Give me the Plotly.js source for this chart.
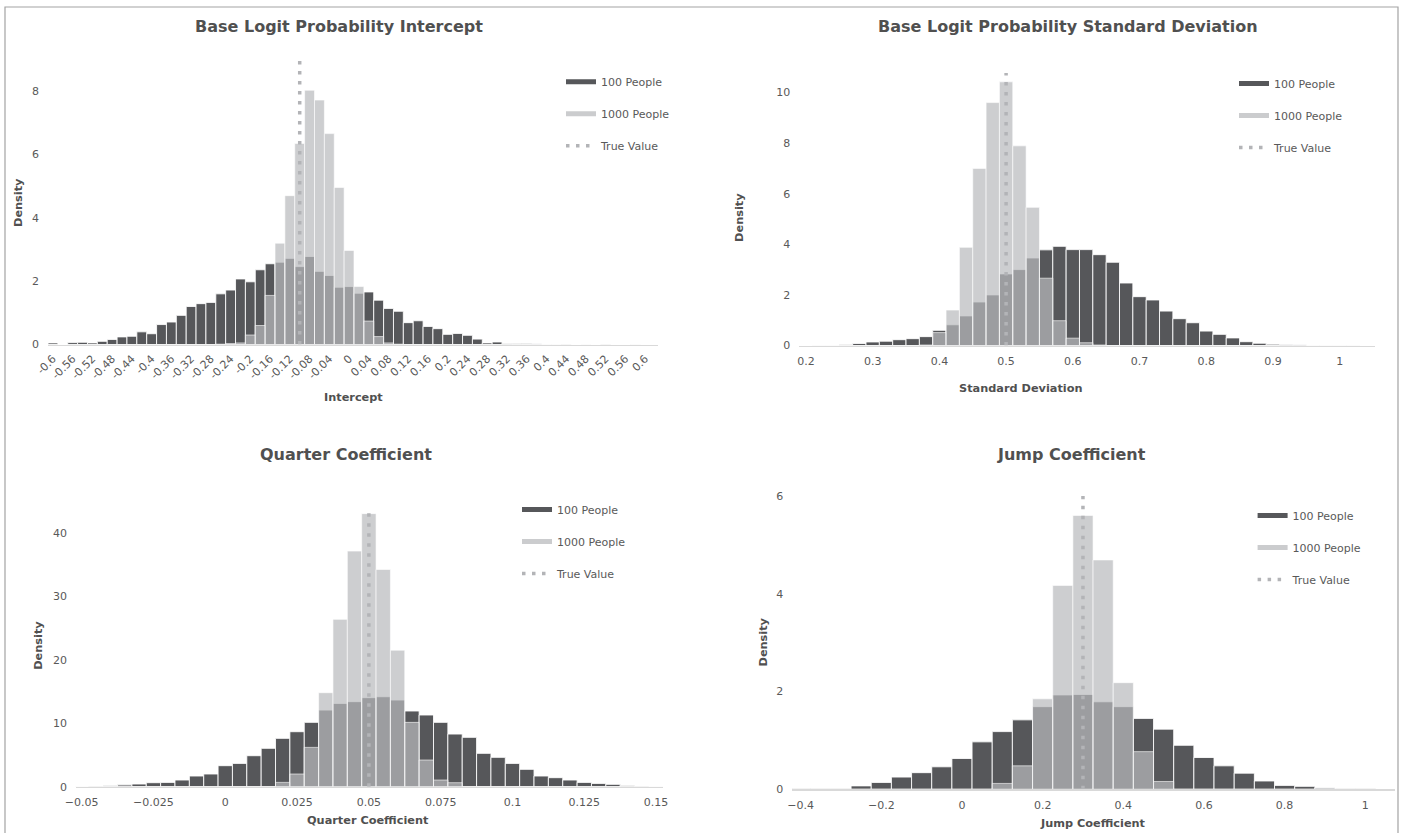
<!DOCTYPE html>
<html>
<head>
<meta charset="utf-8">
<script src="https://cdn.plot.ly/plotly-3.0.1.min.js"></script>
<style>html,body{margin:0;padding:0;background:#fff;}#chart{width:1405px;height:833px;}</style>
</head>
<body>
<div id="chart"></div>
<script>
// ---------- DATA ----------
const seriesNames = ["100 People", "1000 People", "True Value"];

// Panel 1: Base Logit Probability Intercept (bin centres, width 0.02)
const interceptBins = [-0.6,-0.58,-0.56,-0.54,-0.52,-0.5,-0.48,-0.46,-0.44,-0.42,-0.4,-0.38,-0.36,-0.34,-0.32,-0.3,-0.28,-0.26,-0.24,-0.22,-0.2,-0.18,-0.16,-0.14,-0.12,-0.1,-0.08,-0.06,-0.04,-0.02,0,0.02,0.04,0.06,0.08,0.1,0.12,0.14,0.16,0.18,0.2,0.22,0.24,0.26,0.28,0.3,0.32,0.34,0.36,0.38,0.4,0.42,0.44,0.46,0.48,0.5,0.52,0.54,0.56,0.58,0.6];
const intercept100 = [0.05,0,0.06,0.07,0.05,0.1,0.16,0.24,0.26,0.4,0.34,0.63,0.71,0.92,1.2,1.29,1.33,1.6,1.72,2.07,1.98,2.36,2.55,2.6,2.72,2.46,2.78,2.31,2.18,1.81,1.83,1.62,1.66,1.4,1.14,1.05,0.69,0.75,0.57,0.5,0.32,0.35,0.29,0.17,0.05,0.08,0.03,0.03,0.02,0.01,0.01,0.01,0.01,0,0.01,0,0.01,0,0,0.01,0];
const intercept1000 = [0,0,0,0,0,0,0,0,0,0,0,0,0,0,0,0,0,0.01,0.03,0.05,0.3,0.6,1.55,3.2,4.7,6.35,8.03,7.72,6.66,4.96,2.97,1.83,0.74,0.25,0.05,0.01,0,0,0,0,0,0,0,0,0,0,0.01,0,0,0.02,0,0,0.01,0,0,0,0.01,0,0,0,0];
const interceptTicks = [-0.6,-0.56,-0.52,-0.48,-0.44,-0.4,-0.36,-0.32,-0.28,-0.24,-0.2,-0.16,-0.12,-0.08,-0.04,0,0.04,0.08,0.12,0.16,0.2,0.24,0.28,0.32,0.36,0.4,0.44,0.48,0.52,0.56,0.6];
const interceptTickText = ["-0.6","-0.56","-0.52","-0.48","-0.44","-0.4","-0.36","-0.32","-0.28","-0.24","-0.2","-0.16","-0.12","-0.08","-0.04","0","0.04","0.08","0.12","0.16","0.2","0.24","0.28","0.32","0.36","0.4","0.44","0.48","0.52","0.56","0.6"];

// Panel 2: Base Logit Probability Standard Deviation (width 0.02)
const sdBins = [0.2,0.22,0.24,0.26,0.28,0.3,0.32,0.34,0.36,0.38,0.4,0.42,0.44,0.46,0.48,0.5,0.52,0.54,0.56,0.58,0.6,0.62,0.64,0.66,0.68,0.7,0.72,0.74,0.76,0.78,0.8,0.82,0.84,0.86,0.88,0.9,0.92,0.94,0.96,0.98,1,1.02,1.04];
const sd100 = [0,0.01,0.01,0.03,0.08,0.14,0.17,0.23,0.27,0.35,0.6,0.82,1.17,1.72,2.0,2.83,3.0,3.46,3.78,3.92,3.79,3.79,3.59,3.29,2.47,1.93,1.8,1.36,1.06,0.9,0.57,0.44,0.3,0.15,0.09,0.05,0.03,0.02,0.01,0.01,0.01,0.01,0];
const sd1000 = [0,0,0,0,0,0,0,0,0,0.02,0.51,1.4,3.88,7.0,9.6,10.42,7.89,5.46,2.66,0.98,0.29,0.11,0.02,0,0,0,0,0,0,0,0,0,0,0,0,0,0.03,0.03,0,0,0,0,0];
const sdTicks = [0.2,0.3,0.4,0.5,0.6,0.7,0.8,0.9,1];
const sdTickText = ["0.2","0.3","0.4","0.5","0.6","0.7","0.8","0.9","1"];

// Panel 3: Quarter Coefficient (width 0.005)
const quarterBins = [-0.05,-0.045,-0.04,-0.035,-0.03,-0.025,-0.02,-0.015,-0.01,-0.005,0,0.005,0.01,0.015,0.02,0.025,0.03,0.035,0.04,0.045,0.05,0.055,0.06,0.065,0.07,0.075,0.08,0.085,0.09,0.095,0.1,0.105,0.11,0.115,0.12,0.125,0.13,0.135,0.14,0.145,0.15];
const quarter100 = [0.05,0.1,0.15,0.3,0.42,0.63,0.68,1.05,1.68,2.0,3.31,3.67,4.88,6.04,7.61,8.66,10.13,12.07,13.12,13.39,14.02,14.17,13.65,11.92,11.29,10.13,8.29,7.77,5.25,4.62,3.67,2.73,1.68,1.42,1.05,0.68,0.52,0.37,0.2,0.1,0.05];
const quarter1000 = [0,0,0,0.1,0,0,0,0,0,0,0,0,0,0,0.68,2.0,6.19,14.8,26.35,37.1,43.0,34.2,21.5,10.13,4.2,1.05,0.63,0,0,0,0,0,0,0,0,0,0,0,0.05,0,0];
const quarterTicks = [-0.05,-0.025,0,0.025,0.05,0.075,0.1,0.125,0.15];
const quarterTickText = ["\u22120.05","\u22120.025","0","0.025","0.05","0.075","0.1","0.125","0.15"];

// Panel 4: Jump Coefficient (width 0.05)
const jumpBins = [-0.4,-0.35,-0.3,-0.25,-0.2,-0.15,-0.1,-0.05,0,0.05,0.1,0.15,0.2,0.25,0.3,0.35,0.4,0.45,0.5,0.55,0.6,0.65,0.7,0.75,0.8,0.85,0.9,0.95,1,1.05];
const jump100 = [0.01,0.01,0.01,0.07,0.14,0.25,0.34,0.46,0.63,0.97,1.18,1.42,1.69,1.93,1.94,1.79,1.69,1.45,1.23,0.9,0.65,0.48,0.33,0.17,0.08,0.06,0.02,0.01,0.01,0];
const jump1000 = [0,0,0,0,0,0,0,0,0,0,0.12,0.48,1.85,4.17,5.6,4.69,2.18,0.77,0.16,0,0,0,0,0,0,0,0.03,0,0,0];
const jumpTicks = [-0.4,-0.2,0,0.2,0.4,0.6,0.8,1];
const jumpTickText = ["\u22120.4","\u22120.2","0","0.2","0.4","0.6","0.8","1"];

// True values (x) and height of the dotted marker line (y)
const trueValues = [-0.1, 0.5, 0.05, 0.3];
const trueLineTop = [8.95, 10.77, 43.1, 6.0];

const titles = ["Base Logit Probability Intercept", "Base Logit Probability Standard Deviation", "Quarter Coefficient", "Jump Coefficient"];
const xTitles = ["Intercept", "Standard Deviation", "Quarter Coefficient", "Jump Coefficient"];
const yTitle = "Density";
const yTicks = [[0,2,4,6,8],[0,2,4,6,8,10],[0,10,20,30,40],[0,2,4,6]];

// ---------- LAYOUT HELPERS ----------
const W = 1405, H = 833;
const fx = p => p / W;
const fy = p => 1 - p / H;
const FONT = "DejaVu Sans, Verdana, sans-serif";
const DARK = "#56575a";
const LIGHT_FILL = "rgba(185,186,189,0.71)";
const LIGHT_LEG = "#cbccce";
const DOT = "#b3b4b7";
const TXT = "#595959";

const panels = [
  {bins: interceptBins, a: intercept100, b: intercept1000, w: 0.02, ticks: interceptTicks, ticktext: interceptTickText, angle: -45,
   xpx: [48, 658], xr: [-0.61, 0.626], ypx: [344.5, 61.1],
   title: [339, 27], dens: [18.5, 202.5], xt: [354, 397], leg: [566, 82.3]},
  {bins: sdBins, a: sd100, b: sd1000, w: 0.02, ticks: sdTicks, ticktext: sdTickText, angle: 0,
   xpx: [799.3, 1375], xr: [0.19, 1.053], ypx: [345.5, 73],
   title: [1068, 27], dens: [739.4, 217.5], xt: [1020, 388.5], leg: [1239, 84]},
  {bins: quarterBins, a: quarter100, b: quarter1000, w: 0.005, ticks: quarterTicks, ticktext: quarterTickText, angle: 0,
   xpx: [75.9, 663], xr: [-0.052, 0.1524], ypx: [786.7, 513],
   title: [346, 454.5], dens: [39, 645.8], xt: [368.5, 820], leg: [522, 510]},
  {bins: jumpBins, a: jump100, b: jump1000, w: 0.05, ticks: jumpTicks, ticktext: jumpTickText, angle: 0,
   xpx: [792.2, 1394.7], xr: [-0.421, 1.073], ypx: [789.3, 495.9],
   title: [1071.6, 454.5], dens: [763, 642.5], xt: [1093, 823], leg: [1257.6, 516]}
];

const data = [];
const layout = {
  width: W, height: H,
  margin: {l: 0, r: 0, t: 0, b: 0},
  paper_bgcolor: "#fff", plot_bgcolor: "rgba(0,0,0,0)",
  barmode: "overlay", bargap: 0,
  showlegend: true,
  font: {family: FONT, color: TXT, size: 11},
  annotations: [],
  shapes: [{type: "rect", xref: "paper", yref: "paper", x0: fx(5), x1: fx(1398), y0: fy(7), y1: -0.2,
            line: {color: "#a3a3a3", width: 1.2}, fillcolor: "rgba(0,0,0,0)", layer: "above"}]
};

panels.forEach((p, i) => {
  const s = i === 0 ? "" : String(i + 1);
  const xa = "x" + s, ya = "y" + s;
  const legName = "legend" + s;
  data.push({type: "bar", x: p.bins, y: p.a, width: p.w, xaxis: xa, yaxis: ya, showlegend: false, hoverinfo: "skip",
             marker: {color: DARK, line: {color: "rgba(255,255,255,0.85)", width: 1}}});
  data.push({type: "bar", x: p.bins, y: p.b, width: p.w, xaxis: xa, yaxis: ya, showlegend: false, hoverinfo: "skip",
             marker: {color: LIGHT_FILL, line: {color: "rgba(255,255,255,0.6)", width: 1}}});
  data.push({type: "scatter", mode: "lines", x: [null], y: [null], xaxis: xa, yaxis: ya, name: seriesNames[0],
             legend: legName, legendgroup: "a" + i, line: {color: DARK, width: 5}, hoverinfo: "skip"});
  data.push({type: "scatter", mode: "lines", x: [null], y: [null], xaxis: xa, yaxis: ya, name: seriesNames[1],
             legend: legName, legendgroup: "b" + i, line: {color: LIGHT_LEG, width: 5}, hoverinfo: "skip"});
  data.push({type: "scatter", mode: "lines", x: [trueValues[i], trueValues[i]], y: [0, trueLineTop[i]], xaxis: xa, yaxis: ya,
             name: seriesNames[2], legend: legName, legendgroup: "c" + i,
             line: {color: DOT, width: 3.5, dash: "3.5px,6.5px"}, hoverinfo: "skip"});

  layout["xaxis" + s] = {
    domain: [fx(p.xpx[0]), fx(p.xpx[1])], range: p.xr, anchor: ya,
    tickmode: "array", tickvals: p.ticks, ticktext: p.ticktext, tickangle: p.angle,
    showgrid: false, zeroline: false, showline: true, linecolor: "#d9d9d9", linewidth: 1.5, ticks: "",
    ticklabelstandoff: p.angle ? 2 : 5,
    tickfont: {family: FONT, size: 11, color: TXT}, fixedrange: true
  };
  layout["yaxis" + s] = {
    domain: [fy(p.ypx[0]), fy(p.ypx[1])], range: [0, trueLineTop[i]], anchor: xa,
    tickmode: "array", tickvals: yTicks[i], showgrid: false, zeroline: false, showline: false, ticks: "",
    ticklabelstandoff: 8,
    tickfont: {family: FONT, size: 11, color: TXT}, fixedrange: true
  };
  layout[legName] = {
    x: fx(p.leg[0] - 5), y: fy(p.leg[1] - 15), xanchor: "left", yanchor: "top",
    bgcolor: "rgba(0,0,0,0)", borderwidth: 0,
    font: {family: FONT, size: 11, color: TXT},
    traceorder: "grouped", tracegroupgap: 13, itemwidth: 30
  };
  layout.annotations.push({xref: "paper", yref: "paper", x: fx(p.title[0]), y: fy(p.title[1]), xanchor: "center", yanchor: "middle",
    text: "<b>" + titles[i] + "</b>", showarrow: false, font: {family: FONT, size: 16, color: "#505050"}});
  layout.annotations.push({xref: "paper", yref: "paper", x: fx(p.xt[0]), y: fy(p.xt[1]), xanchor: "center", yanchor: "middle",
    text: "<b>" + xTitles[i] + "</b>", showarrow: false, font: {family: FONT, size: 11.3, color: "#505050"}});
  layout.annotations.push({xref: "paper", yref: "paper", x: fx(p.dens[0]), y: fy(p.dens[1]), xanchor: "center", yanchor: "middle",
    text: "<b>" + yTitle + "</b>", textangle: -90, showarrow: false, font: {family: FONT, size: 11.3, color: "#505050"}});
});

Plotly.newPlot("chart", data, layout, {staticPlot: true, displayModeBar: false});
</script>
</body>
</html>
